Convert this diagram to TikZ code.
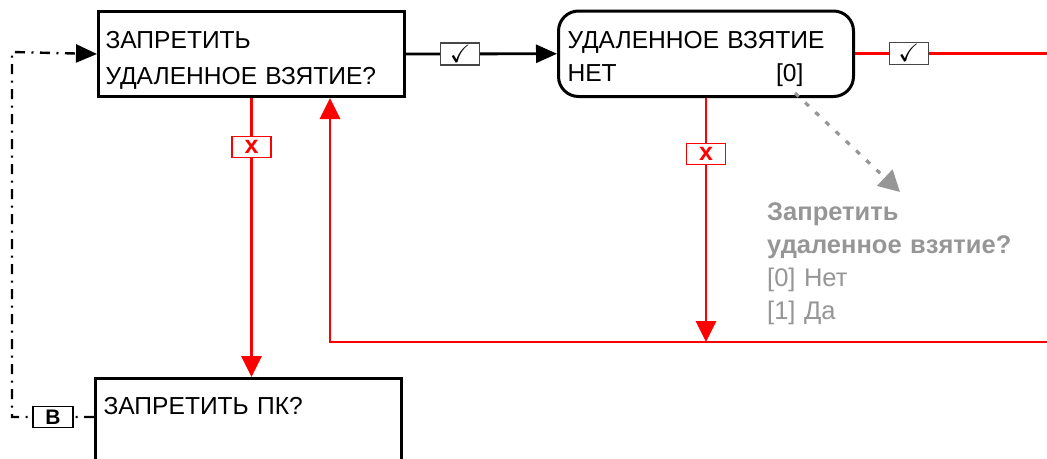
\documentclass[tikz,border=0pt]{standalone}
\usepackage{amssymb}
\usepackage{fontspec}
\setmainfont{Liberation Sans}
\usetikzlibrary{arrows.meta}

\definecolor{menuRed}{RGB}{255,0,0}
\definecolor{menuGray}{RGB}{150,150,150}
\definecolor{menuKeyBorder}{RGB}{70,70,70}

\begin{document}
\begin{tikzpicture}[x=1pt,y=-1pt,
      screen/.style={draw=black, line width=3pt, anchor=north west,
        align=left, inner ysep=0pt, text height=37pt, text depth=48pt,
        font=\fontsize{24.6}{36}\selectfont},
      okkey/.style={draw=menuKeyBorder, fill=white, line width=1.2pt, solid,
        minimum width=39pt, minimum height=22pt, inner sep=0pt,
        font=\fontsize{25}{25}\selectfont},
      nokey/.style={draw=menuRed, fill=white, line width=1.2pt, solid,
        minimum width=39pt, minimum height=21pt, inner sep=0pt,
        text=menuRed, font=\fontsize{25}{25}\selectfont\bfseries},
      backkey/.style={draw=black, fill=white, line width=1.5pt, solid,
        minimum width=40pt, minimum height=21pt, inner sep=0pt,
        font=\fontsize{21}{21}\selectfont\bfseries},
      flow/.style={line width=2.8pt, -{Triangle[length=21pt,width=18pt]}},
      redflow/.style={flow, draw=menuRed, -{Triangle[length=21pt,width=20pt]}},
      backflow/.style={flow, line width=2.4pt,
        dash pattern=on 10pt off 6.5pt on 2pt off 6.5pt},
      hint/.style={draw=menuGray, line width=3.2pt, dash pattern=on 5pt off 9pt,
        -{Triangle[length=21pt,width=22pt]}},
      hinttext/.style={anchor=north west, align=left, inner sep=0pt,
        text width=280pt, text height=20pt, text=menuGray,
        font=\fontsize{25.5}{33}\selectfont}]
      \useasboundingbox (0,0) rectangle (1047,458);
      \fill[white] (0,0) rectangle (1047,458);

      % menu screens
      \node[screen, inner xsep=7pt, text width=292pt] (askRemote) at (97,10)
        {ЗАПРЕТИТЬ\\УДАЛЕННОЕ ВЗЯТИЕ?};
      \node[screen, rounded corners=20pt, inner xsep=9pt, text width=277pt,
        text height=37.5pt, font=\fontsize{24.6}{33}\selectfont] (remoteVal)
        at (557,9.5) {УДАЛЕННОЕ ВЗЯТИЕ\\\makebox[236pt][l]{НЕТ\hfill[0]}};
      \node[screen, inner xsep=8pt, text width=290pt, text height=36pt,
        text depth=90pt] (askPc) at (94,377) {ЗАПРЕТИТЬ ПК?};

      \coordinate (exitR) at (1047,52);
      \coordinate (loopR) at (1047,342);
      \coordinate (loopL) at (330,342);
      \coordinate (backB) at (12,417);
      \coordinate (backT) at (12,52);

      % key transitions
      \draw[flow] (askRemote.east) --
        node[okkey, pos=.36] (okA) {\raisebox{1pt}{$\checkmark$}} (remoteVal.west);
      \draw[redflow, -] (remoteVal.east) --
        node[okkey, pos=.28] (okB) {\raisebox{1pt}{$\checkmark$}}
        (remoteVal.east -| exitR);
      \draw[redflow] (askRemote.south) --
        node[nokey, pos=.176] (noA) {x} (askRemote.south |- askPc.north);
      \draw[redflow] (remoteVal.south) --
        node[nokey, pos=.23] (noB) {x} (remoteVal.south |- loopR);
      \draw[redflow] (loopR) -- (loopL) -- (loopL |- askRemote.south);
      \draw[backflow] (askPc.west |- backB) --
        node[backkey, pos=.5] (keyB) {В} (backB) -- (backT)
        -- (askRemote.west);

      % hint for the value screen
      \coordinate (hintFrom) at (795,93);
      \coordinate (hintTo) at (900,192);
      \draw[hint] (hintFrom) -- (hintTo);
      \node[hinttext] (hintNote) at (767,200)
        {\textbf{Запретить}\\\textbf{удаленное взятие?}\\{}[0] Нет\\{}[1] Да};
    \end{tikzpicture}
\end{document}
